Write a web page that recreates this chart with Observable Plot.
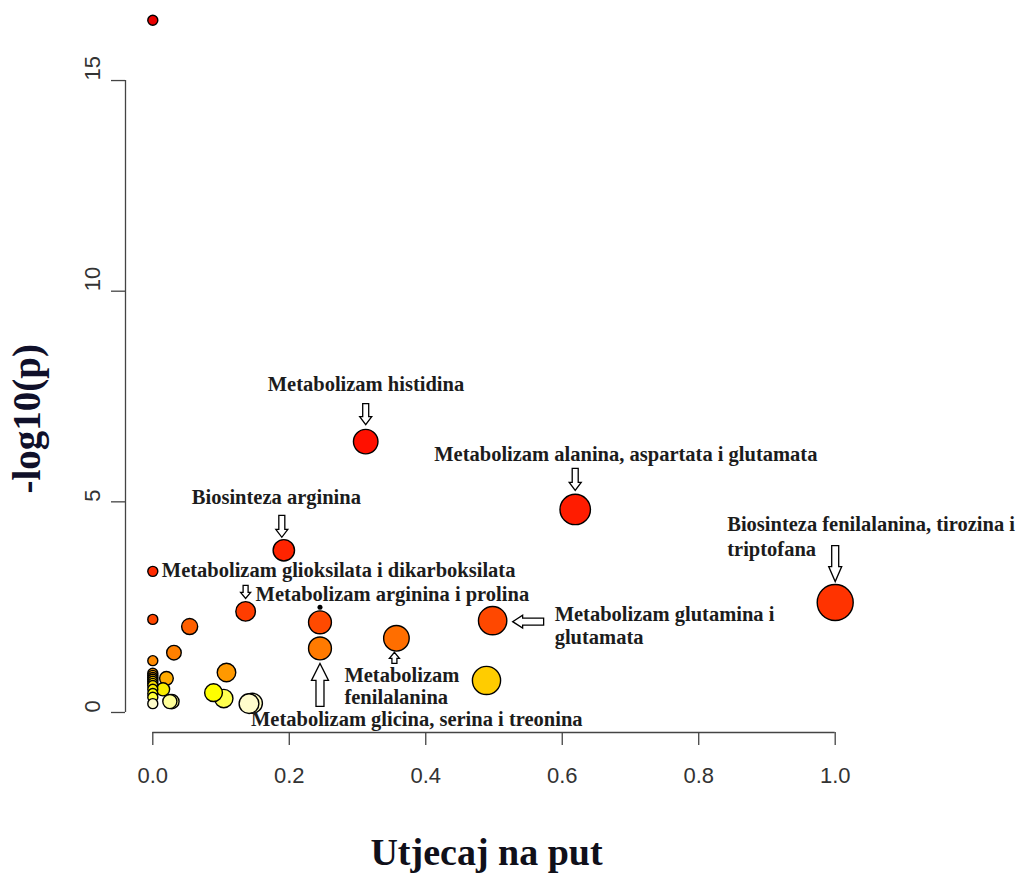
<!DOCTYPE html>
<html><head><meta charset="utf-8">
<script src="https://cdn.jsdelivr.net/npm/d3@7"></script>
<script src="https://cdn.jsdelivr.net/npm/@observablehq/plot@0.6"></script>
<style>body{margin:0;background:#fff}#chart svg{display:block}</style>
</head><body><div id="chart"></div>
<script>
// ---- data ----
const impact = [0, 0.312, 0.619, 0.192, 0, 0.136, 0.245, 0.498, 1.0, 0, 0.054, 0.357, 0.245, 0.031, 0, 0.108, 0.489, 0.02, 0.089, 0.104, 0.146, 0.141, 0.015, 0.028, 0.025, 0, 0, 0, 0, 0, 0, 0, 0, 0, 0, 0];
const logP   = [16.43, 6.43, 4.82, 3.85, 3.35, 2.40, 2.14, 2.18, 2.61, 2.21, 2.04, 1.76, 1.52, 1.42, 1.23, 0.95, 0.76, 0.81, 0.47, 0.33, 0.22, 0.21, 0.55, 0.26, 0.26, 0.93, 0.88, 0.83, 0.79, 0.74, 0.69, 0.64, 0.55, 0.45, 0.36, 0.21];
const pathway = ["", "Metabolizam histidina", "Metabolizam alanina, aspartata i glutamata", "Biosinteza arginina",
  "Metabolizam glioksilata i dikarboksilata", "Metabolizam arginina i prolina", "", "Metabolizam glutamina i glutamata",
  "Biosinteza fenilalanina, tirozina i triptofana", "", "", "Metabolizam fenilalanina", "Metabolizam glicina, serina i treonina",
  "", "", "", "", "", "", "", "", "", "", "", "", "", "", "", "", "", "", "", "", "", "", ""];
const xTicks = [0, 0.2, 0.4, 0.6, 0.8, 1.0];
const yTicks = [0, 5, 10, 15];
const xTitle = "Utjecaj na put";
const yTitle = "-log10(p)";

const rows = impact.map((x, i) => ({impact: x, logP: logP[i], pathway: pathway[i]}));

// ---- annotation layout (pixel offsets from the annotated point) ----
function blockArrow(from, to, w, s, h) {
  return {draw(ctx) {
    const [x0, y0] = from, [x1, y1] = to;
    const L = Math.hypot(x1 - x0, y1 - y0), ux = (x1 - x0) / L, uy = (y1 - y0) / L, nx = -uy, ny = ux;
    const bx = x1 - ux * h, by = y1 - uy * h;
    const pts = [[x0 + nx*s/2, y0 + ny*s/2], [bx + nx*s/2, by + ny*s/2], [bx + nx*w/2, by + ny*w/2], [x1, y1],
                 [bx - nx*w/2, by - ny*w/2], [bx - nx*s/2, by - ny*s/2], [x0 - nx*s/2, y0 - ny*s/2]];
    ctx.moveTo(pts[0][0], pts[0][1]);
    for (const p of pts.slice(1)) ctx.lineTo(p[0], p[1]);
    ctx.closePath();
  }};
}
const layout = [
  {name: "Metabolizam histidina", text: "Metabolizam histidina", dx: -98, dy: -57, arrow: blockArrow([0,-38],[0,-17],12,6,8)},
  {name: "Metabolizam alanina, aspartata i glutamata", text: "Metabolizam alanina, aspartata i glutamata", dx: -141, dy: -55, arrow: blockArrow([0,-41],[0,-19],12,6,8)},
  {name: "Biosinteza arginina", text: "Biosinteza arginina", dx: -92, dy: -53, arrow: blockArrow([-2,-35],[-2,-13],12,6,8)},
  {name: "Biosinteza fenilalanina, tirozina i triptofana", text: "Biosinteza fenilalanina, tirozina i\ntriptofana", dx: -108, dy: -67.5, lh: 1.22, arrow: blockArrow([0,-57],[0,-21],13,7,15)},
  {name: "Metabolizam glioksilata i dikarboksilata", text: "Metabolizam glioksilata i dikarboksilata", dx: 9, dy: -1},
  {name: "Metabolizam arginina i prolina", text: "Metabolizam arginina i prolina", dx: 10, dy: -17, arrow: blockArrow([0,-26],[0,-13],10,5,6)},
  {name: "Metabolizam glutamina i glutamata", text: "Metabolizam glutamina i\nglutamata", dx: 62, dy: 4.5, lh: 1.12, arrow: blockArrow([51,1],[20,1],13,7,10)},
  {name: "Metabolizam fenilalanina", text: "Metabolizam\nfenilalanina", dx: -52, dy: 48, lh: 1.05, arrow: blockArrow([-2,25],[-2,14],10,5,6)},
  {name: "Metabolizam glicina, serina i treonina", text: "Metabolizam glicina, serina i treonina", dx: -69, dy: 71, arrow: blockArrow([0,58],[0,15],17,8,17)}
];

const serif = "'Liberation Serif', 'Times New Roman', serif";
const sans = "'Liberation Sans', Arial, sans-serif";
const labelStyle = {textAnchor: "start", fontSize: 20.5, fontWeight: "bold", fontFamily: serif, fill: "#1c1c1c"};

const annotationMarks = layout.flatMap(a => {
  const sel = rows.filter(d => d.pathway === a.name);
  const m = [Plot.text(sel, {x: "impact", y: "logP", text: () => a.text, dx: a.dx, dy: a.dy, lineHeight: a.lh || 1, ...labelStyle})];
  if (a.arrow) m.push(Plot.dot(sel, {x: "impact", y: "logP", symbol: a.arrow, r: 10, fill: "white", stroke: "black", strokeWidth: 1.3}));
  return m;
});

const yDomain = [-0.475, 16.9];
const xDomain = [-0.04, 1.04];

const chart = Plot.plot({
  width: 1018, height: 877,
  marginLeft: 125, marginRight: 156, marginTop: 0, marginBottom: 145,
  style: {fontFamily: sans, background: "white"},
  x: {domain: xDomain},
  y: {domain: yDomain},
  r: {type: "sqrt", domain: [0, 1], range: [5, 18]},
  color: {type: "linear", interpolate: "rgb",
    domain: [0.2, 0.26, 0.34, 0.47, 0.55, 0.76, 0.81, 0.95, 1.23, 1.52, 1.76, 2.04, 2.14, 2.6, 3.85, 6.4, 17],
    range: ["#fffbd6", "#ffff99", "#ffff44", "#ffff00", "#f8ec00", "#ffcc00", "#ffaa00", "#ff9900", "#ff8a00", "#ff7a00", "#ff6e00", "#ff6000", "#ff4a00", "#ff3300", "#ff2400", "#ff1000", "#e80000"]},
  marks: [
    Plot.ruleY([yDomain[0]], {x1: xTicks[0], x2: xTicks[xTicks.length - 1], stroke: "#444", strokeWidth: 1.3}),
    Plot.ruleX([xDomain[0]], {y1: yTicks[0], y2: yTicks[yTicks.length - 1], stroke: "#444", strokeWidth: 1.3}),
    Plot.axisX(xTicks, {anchor: "bottom", tickSize: 13, tickPadding: 22, tickFormat: d3.format(".1f"), label: null,
      fontSize: 22, fontFamily: sans, stroke: "#444", fill: "#333", strokeWidth: 1.3}),
    Plot.axisY(yTicks, {anchor: "left", tickSize: 14, tickFormat: () => "", label: null, stroke: "#444", strokeWidth: 1.3}),
    Plot.text(yTicks, {y: d => d, text: d => String(d), frameAnchor: "left", dx: -33, rotate: -90, fontSize: 22, fontFamily: sans, fill: "#333"}),
    Plot.text([yTitle], {frameAnchor: "left", dx: -98, dy: 127, rotate: -90, fontSize: 39, fontWeight: "bold", fontFamily: serif, fill: "#10102a"}),
    Plot.text([xTitle], {frameAnchor: "bottom", dx: -7.5, dy: 132, fontSize: 38, fontWeight: "bold", fontFamily: serif, fill: "#10101a"}),
    Plot.dot(rows, {x: "impact", y: "logP", r: "impact", fill: "logP", stroke: "black", strokeWidth: 1.4}),
    Plot.dot(rows.filter(d => d.impact === 0.245 && d.logP === 2.14), {x: "impact", y: "logP", dy: -15, r: 2.5, fill: "black"}),
    ...annotationMarks
  ]
});
document.getElementById("chart").appendChild(chart);
</script>
</body></html>
